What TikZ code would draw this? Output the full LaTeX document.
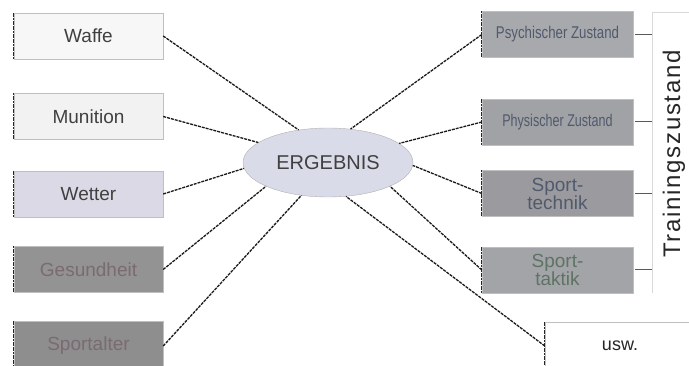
\documentclass[tikz,border=0pt]{standalone}
\usepackage{fontspec}
\setmainfont{Liberation Sans}
\usepackage{xcolor}
\usetikzlibrary{shapes.geometric}

\definecolor{boxlav}{HTML}{DCD9E6}
\definecolor{boxgrey}{HTML}{939393}
\definecolor{boxdark}{HTML}{8E8E8E}
\definecolor{boxsteel}{HTML}{A8A9AD}
\definecolor{ellfill}{HTML}{D9DBE8}
\definecolor{txtred}{HTML}{7A6A71}
\definecolor{txtblue}{HTML}{505A6C}
\definecolor{txtgreen}{HTML}{5E7364}

\begin{document}
\begin{tikzpicture}[
  x=1pt, y=-1pt,
  factor/.style={rectangle, draw=black!25, minimum width=149pt, minimum height=46pt,
    inner sep=0pt, align=center, font=\fontsize{19}{18}\selectfont, text=black!75},
  zustand/.style={factor, fill=boxsteel, minimum width=151pt, text=txtblue},
  link/.style={black!90, line width=1.3pt, dash pattern=on 3pt off 1pt},
  edge/.style={black!85, line width=1.2pt, dash pattern=on 2pt off 0.6pt},
  tick/.style={black!65, line width=1pt},
  bracket/.style={black!15, line width=0.8pt}
]
  \useasboundingbox (0,0) rectangle (689,366);

  % Einflussfaktoren links
  \node[factor, fill=black!3]  (waffe)      at (88.5,36)  {Waffe};
  \node[factor, fill=black!5]  (munition)   at (88.5,116.5) {Munition};
  \node[factor, fill=boxlav]   (wetter)     at (88.5,194) {Wetter};
  \node[factor, fill=boxgrey, text=txtred] (gesundheit) at (88.5,269.5) {Gesundheit};
  \node[factor, fill=boxdark, text=txtred, minimum height=50pt] (sportalter) at (88.5,346) {Sportalter};

  % Ergebnis
  \node[ellipse, draw=black!30, fill=ellfill, minimum width=170pt, minimum height=69pt,
    font=\fontsize{20}{20}\selectfont, text=black!75] (erg) at (328,162.5) {ERGEBNIS};

  % Trainingszustand rechts
  \node[zustand] (psych)   at (557.5,34.5)
    {\scalebox{0.78}[1]{\fontsize{17}{17}\selectfont Psychischer Zustand}};
  \node[zustand, fill=boxsteel!96!black] (phys) at (557.5,122)
    {\scalebox{0.74}[1]{\fontsize{17}{17}\selectfont Physischer Zustand}};
  \node[zustand, fill=boxsteel!92!black] (technik) at (557.5,193.5) {Sport-\\technik};
  \node[zustand, fill=boxsteel!97!black, text=txtgreen] (taktik) at (557.5,270) {Sport-\\taktik};
  \node[factor, fill=white, minimum width=150pt, minimum height=48pt,
    font=\fontsize{18}{18}\selectfont, text=black!85] (usw) at (620,346) {usw.};

  \coordinate (brk) at (652,12);
  \draw[bracket] (689,12) -- (brk) -- (652,293);
  \node[rotate=90, font=\fontsize{24}{24}\selectfont\addfontfeatures{LetterSpace=7},
    text=black!85] (training) at (674,154) {Trainingszustand};

  % dunkle linke Kanten
  \foreach \n in {waffe,munition,wetter,gesundheit,sportalter,psych,phys,technik,taktik,usw}
    \draw[edge] (\n.north west) -- (\n.south west);

  % Verbindungen
  \draw[link] (waffe.east)      -- (erg.132);
  \draw[link] (munition.east)   -- (erg.164);
  \draw[link] (wetter.east)     -- (erg.184);
  \draw[link] (gesundheit.east) -- (erg.201);
  \draw[link] (sportalter.east) -- (erg.231);
  \draw[link] (psych.west)      -- (erg.56);
  \draw[link] (phys.west)       -- (erg.15);
  \draw[link] (technik.west)    -- (erg.-2);
  \draw[link] (taktik.west)     -- (erg.-21);
  \draw[link] (usw.west)        -- (erg.-62);

  \foreach \n in {psych,phys,technik,taktik}
    \draw[tick] ([xshift=2pt]\n.east) -- (\n.east -| brk);
\end{tikzpicture}
\end{document}
